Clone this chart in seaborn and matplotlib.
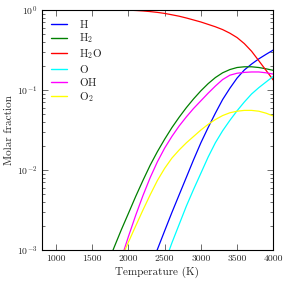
import numpy as np
import pandas as pd
import matplotlib
matplotlib.use("Agg")
import matplotlib.pyplot as plt
import seaborn as sns

# ---- data (molar fractions vs temperature) ----
T_H2O = [800, 1000, 1200, 1400, 1600, 1800, 2000, 2100, 2200, 2300, 2400, 2500,
         2600, 2700, 2800, 2900, 3000, 3100, 3200, 3300, 3400, 3500, 3600, 3700,
         3800, 3900, 4000]
x_H2O = [1.0, 1.0, 1.0, 1.0, 1.0, 0.999, 0.995, 0.986, 0.973, 0.955, 0.933, 0.906,
         0.871, 0.836, 0.794, 0.750, 0.708, 0.661, 0.617, 0.569, 0.513, 0.452, 0.380,
         0.305, 0.232, 0.176, 0.133]

T_H = [2300, 2400, 2500, 2600, 2700, 2800, 2900, 3000, 3100, 3200, 3300, 3400,
       3500, 3600, 3700, 3800, 3900, 4000]
x_H = [6.03e-4, 1.02e-3, 1.74e-3, 2.95e-3, 4.90e-3, 8.13e-3, 1.35e-2, 2.19e-2,
       3.39e-2, 5.13e-2, 7.59e-2, 0.105, 0.141, 0.178, 0.211, 0.245, 0.279, 0.316]

T_H2 = [1700, 1800, 1900, 2000, 2100, 2200, 2300, 2400, 2500, 2600, 2700, 2800,
        2900, 3000, 3100, 3200, 3300, 3400, 3500, 3600, 3700, 3800, 3900, 4000]
x_H2 = [6.31e-4, 1.07e-3, 1.78e-3, 2.88e-3, 4.68e-3, 7.41e-3, 1.15e-2, 1.70e-2,
        2.43e-2, 3.39e-2, 4.57e-2, 6.03e-2, 7.76e-2, 9.77e-2, 0.120, 0.143, 0.164,
        0.180, 0.191, 0.195, 0.195, 0.191, 0.184, 0.176]

T_O = [2500, 2600, 2700, 2800, 2900, 3000, 3100, 3200, 3300, 3400, 3500, 3600,
       3700, 3800, 3900, 4000]
x_O = [6.92e-4, 1.23e-3, 2.09e-3, 3.55e-3, 5.75e-3, 9.12e-3, 1.45e-2, 2.19e-2,
       3.09e-2, 4.17e-2, 5.50e-2, 7.08e-2, 8.91e-2, 0.107, 0.126, 0.148]

T_OH = [1900, 2000, 2100, 2200, 2300, 2400, 2500, 2600, 2700, 2800, 2900, 3000,
        3100, 3200, 3300, 3400, 3500, 3600, 3700, 3800, 3900, 4000]
x_OH = [7.76e-4, 1.48e-3, 2.72e-3, 4.79e-3, 8.04e-3, 1.27e-2, 1.88e-2, 2.63e-2,
        3.55e-2, 4.62e-2, 5.89e-2, 7.33e-2, 9.12e-2, 0.112, 0.135, 0.153, 0.162,
        0.166, 0.168, 0.168, 0.164, 0.158]

T_O2 = [1900, 2000, 2100, 2200, 2300, 2400, 2500, 2600, 2700, 2800, 2900, 3000,
        3100, 3200, 3300, 3400, 3500, 3600, 3700, 3800, 3900, 4000]
x_O2 = [7.76e-4, 1.26e-3, 2.00e-3, 3.16e-3, 4.90e-3, 7.41e-3, 1.05e-2, 1.41e-2,
        1.78e-2, 2.19e-2, 2.63e-2, 3.16e-2, 3.72e-2, 4.27e-2, 4.79e-2, 5.19e-2,
        5.43e-2, 5.56e-2, 5.56e-2, 5.43e-2, 5.13e-2, 4.73e-2]

species = ["H", "H2", "H2O", "O", "OH", "O2"]
legend_labels = [r"$\mathrm{H}$", r"$\mathrm{H_2}$", r"$\mathrm{H_2O}$",
                 r"$\mathrm{O}$", r"$\mathrm{OH}$", r"$\mathrm{O_2}$"]
colors = ["#0000ff", "#008000", "#ff0000", "#00ffff", "#ff00ff", "#ffff00"]

x_ticks = [1000, 1500, 2000, 2500, 3000, 3500, 4000]

series = {"H": (T_H, x_H), "H2": (T_H2, x_H2), "H2O": (T_H2O, x_H2O),
          "O": (T_O, x_O), "OH": (T_OH, x_OH), "O2": (T_O2, x_O2)}
frames = [pd.DataFrame({"T": t, "x": v, "species": s}) for s, (t, v) in series.items()]
df = pd.concat(frames, ignore_index=True)

# ---- style ----
sns.set_style("ticks")
plt.rcParams["font.family"] = ["cmr10", "DejaVu Serif"]
plt.rcParams["mathtext.fontset"] = "cm"
plt.rcParams["axes.unicode_minus"] = False
plt.rcParams["axes.formatter.use_mathtext"] = True

fig = plt.figure(figsize=(2.90, 2.83), dpi=100)
ax = fig.add_axes([0.1434, 0.1166, 0.7990, 0.8481])

sns.lineplot(data=df, x="T", y="x", hue="species", hue_order=species,
             palette=dict(zip(species, colors)), linewidth=0.9, ax=ax,
             sort=True, estimator=None, legend=False)

ax.set_yscale("log")
ax.set_xlim(800, 4000)
ax.set_ylim(1e-3, 1.0)
ax.set_xticks(x_ticks)
ax.set_xticklabels([str(v) for v in x_ticks])

ax.set_xlabel("Temperature (K)", fontsize=8, labelpad=3)
ax.set_ylabel("Molar fraction", fontsize=8, labelpad=2)
ax.tick_params(which="both", direction="in", top=True, right=True,
               labelsize=7, color="#555555", width=0.6)
ax.tick_params(which="major", length=4, pad=3)
ax.tick_params(which="minor", length=2)
for sp in ax.spines.values():
    sp.set_linewidth(0.8)
    sp.set_color("black")

handles = [plt.Line2D([], [], color=c, lw=1.0) for c in colors]
ax.legend(handles, legend_labels, loc="upper left", frameon=False, fontsize=8,
          handlelength=1.5, handletextpad=1.1, labelspacing=0.15,
          borderaxespad=0.3, bbox_to_anchor=(0.005, 1.0))

fig.savefig("out.png", dpi=100)
